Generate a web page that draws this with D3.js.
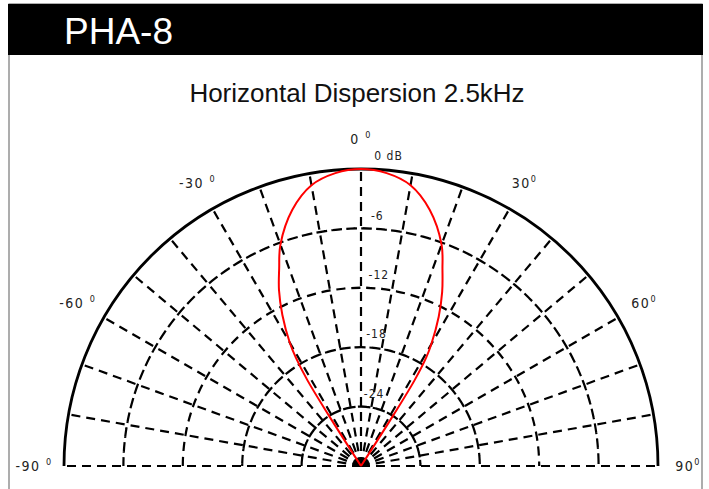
<html>
<head>
    <script src="https://cdnjs.cloudflare.com/ajax/libs/d3/7.1.1/d3.js"></script>
    <style>
        body { margin: 0; background: #fff; }
    </style>
</head>
<body>
    <script>
        // polar pattern (degrees, dB)
        const curveAngles = [-33, -32.5, -32, -31, -30, -27.5, -25, -22.5, -20, -15, -10, -5, 0,
            5, 10, 15, 20, 22.5, 25, 27.5, 30, 31, 32, 32.5, 33];
        const curveLevels = [-30, -24, -19.8, -17.2, -15.6, -12.8, -10.4, -8.4, -6.2, -3.2, -1.2, -0.3, 0,
            -0.3, -1.2, -3.2, -6.2, -8.5, -10.6, -13, -15.8, -17.2, -19.8, -24, -30];

        const ringLevels = [-24, -18, -12, -6];
        const ringLabels = ['-24', '-18', '-12', '-6'];
        const spokeAngles = d3.range(-80, 90, 10);
        const angleTicks = [-90, -60, -30, 0, 30, 60, 90];
        const angleTickLabels = ['-90 ', '-60 ', '-30 ', '0 ', '30', '60', '90'];

        const width = 709;
        const height = 489;
        const cx = 361, cy = 466, R = 297;
        const narrow = 'DejaVu Sans Condensed, Liberation Sans Narrow, Liberation Sans';

        const svg = d3.select('body').append('svg')
            .attr('width', width)
            .attr('height', height);

        // frame + header
        svg.append('rect')
            .attr('x', 9).attr('y', 4).attr('width', 693).attr('height', 500)
            .style('fill', 'none').style('stroke', '#777').style('stroke-width', 1.2);
        svg.append('rect')
            .attr('x', 8).attr('y', 4).attr('width', 695).attr('height', 51)
            .style('fill', '#000');
        svg.append('text')
            .attr('x', 64).attr('y', 44)
            .text('PHA-8')
            .attr('font-family', 'Liberation Sans, Arial')
            .attr('font-size', 37)
            .style('fill', '#fff');

        svg.append('text')
            .attr('x', 357).attr('y', 102)
            .attr('text-anchor', 'middle')
            .text('Horizontal Dispersion 2.5kHz')
            .attr('font-family', 'Liberation Sans, Arial')
            .attr('font-size', 26)
            .style('fill', '#111');

        const r = d3.scaleLinear().domain([-30, 0]).range([0, R]).clamp(true);
        const rad = d => d * Math.PI / 180;

        const g = svg.append('g')
            .attr('transform', `translate(${cx}, ${cy})`);

        const arc = d3.arc()
            .innerRadius(d => r(d))
            .outerRadius(d => r(d))
            .startAngle(rad(-90))
            .endAngle(rad(90));

        // dashed rings
        g.selectAll('.ring')
            .data(ringLevels)
            .enter().append('path')
            .attr('class', 'ring')
            .attr('d', d => arc(d))
            .style('fill', 'none')
            .style('stroke', '#000')
            .style('stroke-width', 2.2)
            .style('stroke-dasharray', '9,6');

        // dashed spokes
        g.selectAll('.spoke')
            .data(spokeAngles)
            .enter().append('line')
            .attr('class', 'spoke')
            .attr('x1', 0).attr('y1', 0)
            .attr('x2', d => r(0) * Math.sin(rad(d)))
            .attr('y2', d => -r(0) * Math.cos(rad(d)))
            .style('stroke', '#000')
            .style('stroke-width', 2.2)
            .style('stroke-dasharray', '9,6');

        // baseline (±90)
        [-90, 90].forEach(a => {
            g.append('line')
                .attr('x1', 0).attr('y1', 0)
                .attr('x2', r(0) * Math.sin(rad(a)))
                .attr('y2', 0)
                .style('stroke', '#000')
                .style('stroke-width', 2.2)
                .style('stroke-dasharray', '9,6');
        });

        // outer solid rim
        g.append('path')
            .attr('d', arc(0))
            .style('fill', 'none')
            .style('stroke', '#000')
            .style('stroke-width', 2.8);

        // dB labels
        const labA = rad(2.3);
        g.selectAll('.dbl')
            .data(ringLevels)
            .enter().append('text')
            .attr('class', 'dbl')
            .attr('x', d => (r(d) + 9) * Math.sin(labA))
            .attr('y', d => -(r(d) + 9) * Math.cos(labA))
            .text((d, i) => ringLabels[i])
            .attr('font-family', narrow)
            .attr('font-size', 12)
            .attr('letter-spacing', 1)
            .style('fill', '#222');

        g.append('text')
            .attr('x', (r(0) + 9) * Math.sin(labA) + 1)
            .attr('y', -(r(0) + 9) * Math.cos(labA))
            .text('0 dB')
            .attr('font-family', narrow)
            .attr('font-size', 12)
            .attr('letter-spacing', 1)
            .style('fill', '#222');

        // angle labels
        const at = g.selectAll('.angl')
            .data(angleTicks)
            .enter().append('text')
            .attr('class', 'angl')
            .attr('x', d => (r(0) + 30) * Math.sin(rad(d)))
            .attr('y', d => -(r(0) + 30) * Math.cos(rad(d)) + 5)
            .attr('text-anchor', 'middle')
            .attr('font-family', narrow)
            .attr('font-size', 14)
            .attr('letter-spacing', 1.5)
            .style('fill', '#222');
        at.append('tspan').text((d, i) => angleTickLabels[i]);
        at.append('tspan')
            .text('0')
            .attr('font-size', 9)
            .attr('dy', -6);

        // response curve
        const pts = curveAngles.map((a, i) => [rad(a), r(curveLevels[i])]);
        const line = d3.lineRadial()
            .angle(d => d[0])
            .radius(d => d[1])
            .curve(d3.curveCatmullRom.alpha(0.5));

        g.append('path')
            .attr('d', line(pts))
            .style('fill', 'none')
            .style('stroke', '#f00')
            .style('stroke-width', 2);
    </script>
</body>
</html>
